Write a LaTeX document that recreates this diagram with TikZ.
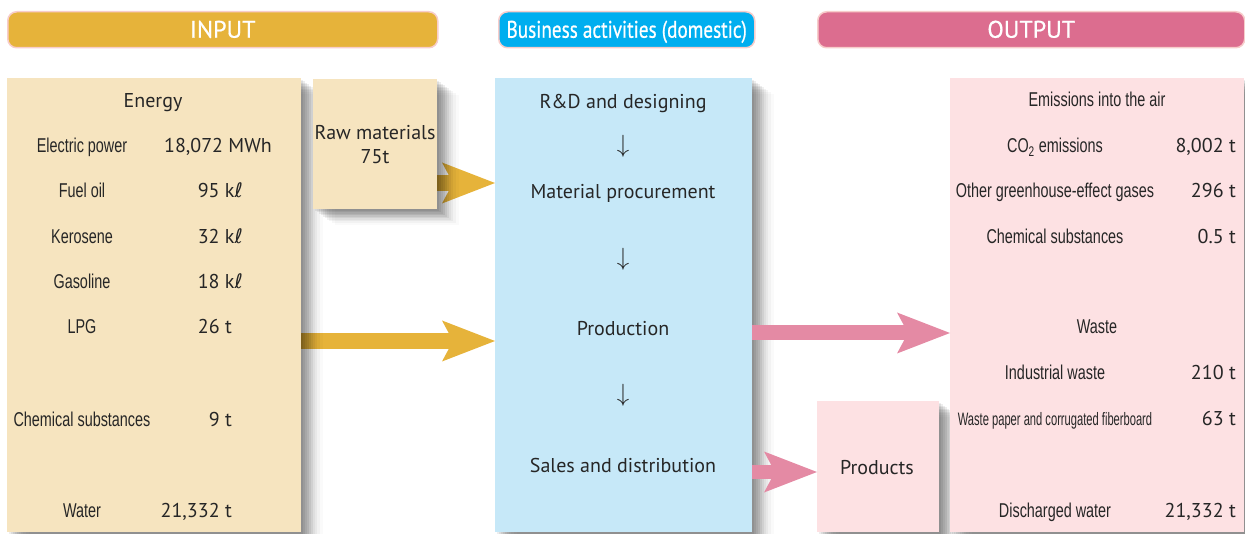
\documentclass[tikz,border=0pt]{standalone}
\usepackage{fontspec}
\setmainfont{PT Sans}
\newfontfamily\condfont[FakeStretch=0.72]{Liberation Sans}
\newfontfamily\tightfont[FakeStretch=0.62]{Liberation Sans}
\newfontfamily\bannerfont[FakeBold=0.6]{PT Sans}
\newfontfamily\bannercond[FakeStretch=0.8,FakeBold=0.6]{PT Sans}
\newfontfamily\symfont{DejaVu Sans}
\usetikzlibrary{arrows.meta,shadows}

\definecolor{ingold}{HTML}{E6B33A}
\definecolor{inpale}{HTML}{F6E4BF}
\definecolor{bizblue}{HTML}{00AEEF}
\definecolor{bizpale}{HTML}{C6E8F8}
\definecolor{outrose}{HTML}{DC6D8F}
\definecolor{outpale}{HTML}{FDE1E3}
\definecolor{arrowrose}{HTML}{E48AA4}
\definecolor{rim}{HTML}{F7CDCB}
\definecolor{ink}{HTML}{262626}

\newcommand\kl{k{\symfont ℓ}}

\pgfdeclarelayer{back}
\pgfsetlayers{back,main}

\tikzset{
  softshadow/.style={
    general shadow={fill=black,opacity=.07,shadow xshift=2pt,shadow yshift=-1.5pt},
    general shadow={fill=black,opacity=.07,shadow xshift=4pt,shadow yshift=-3pt},
    general shadow={fill=black,opacity=.07,shadow xshift=6pt,shadow yshift=-4.5pt},
    general shadow={fill=black,opacity=.07,shadow xshift=8pt,shadow yshift=-6pt},
    general shadow={fill=black,opacity=.07,shadow xshift=10pt,shadow yshift=-7.5pt},
    general shadow={fill=black,opacity=.06,shadow xshift=12pt,shadow yshift=-9pt},
    general shadow={fill=black,opacity=.05,shadow xshift=14pt,shadow yshift=-10.5pt},
    general shadow={fill=black,opacity=.04,shadow xshift=16pt,shadow yshift=-12pt},
    general shadow={fill=black,opacity=.03,shadow xshift=19pt,shadow yshift=-14pt},
    general shadow={fill=black,opacity=.02,shadow xshift=22pt,shadow yshift=-16pt}},
  panel/.style={anchor=north west, inner sep=0pt, softshadow},
  banner/.style={anchor=north west, draw=rim, line width=1.5pt, rounded corners=9pt,
    minimum height=36pt, text=white, text height=16pt, text depth=0pt,
    font=\bannerfont\fontsize{24}{24}\selectfont},
  lbl/.style={anchor=base, text=ink, inner sep=0pt, font=\condfont\fontsize{20}{20}\selectfont},
  amt/.style={anchor=base east, text=ink, inner sep=0pt, font=\fontsize{20}{20}\selectfont},
  stage/.style={anchor=base, text=ink, inner sep=0pt, font=\fontsize{20}{20}\selectfont},
  down/.style={text=ink, inner sep=0pt, font=\fontsize{28}{28}\selectfont},
  flow/.style={line width=16pt, -{Stealth[length=53pt,width=41pt,inset=11pt,line width=0pt]}},
}

\begin{document}
\begin{tikzpicture}[x=1pt,y=-1pt]
  \useasboundingbox (0,0) rectangle (1245,534);

  % headings
  \node[banner, fill=ingold, minimum width=430pt] (inhead) at (7,11) {INPUT};
  \node[banner, fill=bizblue, minimum width=256pt, font=\bannercond\fontsize{24}{24}\selectfont] (bizhead) at (498,11) {Business activities (domestic)};
  \node[banner, fill=outrose, minimum width=427pt] (outhead) at (817,11) {OUTPUT};

  % panels
  \node[panel, fill=inpale, minimum width=294pt, minimum height=454pt] (inbox) at (7,78) {};
  \node[panel, fill=inpale, minimum width=124pt, minimum height=130pt] (raw) at (313,79) {};
  \node[panel, fill=bizpale, minimum width=257pt, minimum height=454pt] (biz) at (495,78) {};
  \node[panel, fill=outpale, minimum width=122pt, minimum height=131pt] (prod) at (817,401) {};
  \node[panel, fill=outpale, minimum width=294pt, minimum height=454pt] (outbox) at (950,78) {};

  % flows in, under the shadows
  \begin{pgfonlayer}{back}
    \draw[flow, ingold] (raw.east |- 0,183) -- (biz.west |- 0,183);
    \draw[flow, ingold] (inbox.east |- 0,341) -- (biz.west |- 0,341);
  \end{pgfonlayer}
  % flows out
  \draw[flow, arrowrose, line width=15pt] (biz.east |- 0,333) -- (outbox.west |- 0,333);
  \draw[flow, arrowrose, line width=14pt] (biz.east |- 0,472) -- (prod.west |- 0,472);

  % input
  \node[stage] (energy) at (153,108) {Energy};
  \foreach \txt/\y [count=\i] in {Electric power/153, Fuel oil/198, Kerosene/244,
      Gasoline/289, LPG/334, Chemical substances/426, Water/517}
    \node[lbl] (inlbl\i) at (82,\y) {\txt};
  \node[amt] (inval1) at (272,153) {18,072 MWh};
  \node[amt] (inval2) at (243,198) {95 \kl};
  \node[amt] (inval3) at (243,244) {32 \kl};
  \node[amt] (inval4) at (243,289) {18 \kl};
  \node[amt] (inval5) at (232,334) {26 t};
  \node[amt] (inval6) at (232,426) {9 t};
  \node[amt] (inval7) at (232,517) {21,332 t};
  \node[stage] (rawname) at (375,140) {Raw materials};
  \node[stage] (rawval) at (375,164) {75t};

  % business activities
  \node[stage] (design) at (623,109) {R\&D and designing};
  \node[down] (d1) at (623,146) {$\downarrow$};
  \node[stage] (procure) at (623,199) {Material procurement};
  \node[down] (d2) at (623,259) {$\downarrow$};
  \node[stage] (make) at (623,336) {Production};
  \node[down] (d3) at (623,395) {$\downarrow$};
  \node[stage] (sales) at (623,472) {Sales and distribution};
  \node[stage] (prodname) at (877,474) {Products};

  % output
  \node[lbl] (air) at (1097,107) {Emissions into the air};
  \node[lbl] (outlbl1) at (1055,153) {CO\textsubscript{2} emissions};
  \node[lbl] (outlbl2) at (1055,198) {Other greenhouse-effect gases};
  \node[lbl] (outlbl3) at (1055,244) {Chemical substances};
  \node[lbl] (waste) at (1097,334) {Waste};
  \node[lbl] (outlbl4) at (1055,380) {Industrial waste};
  \node[lbl, font=\tightfont\fontsize{18}{18}\selectfont] (outlbl5) at (1055,425) {Waste paper and corrugated fiberboard};
  \node[lbl] (outlbl6) at (1055,517) {Discharged water};
  \node[amt] (outval1) at (1236,153) {8,002 t};
  \node[amt] (outval2) at (1236,198) {296 t};
  \node[amt] (outval3) at (1236,244) {0.5 t};
  \node[amt] (outval4) at (1236,380) {210 t};
  \node[amt] (outval5) at (1236,425) {63 t};
  \node[amt] (outval6) at (1236,517) {21,332 t};
\end{tikzpicture}
\end{document}
